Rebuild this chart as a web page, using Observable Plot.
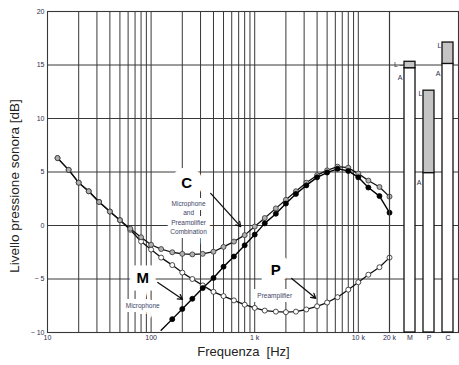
<!DOCTYPE html>
<html><head><meta charset="utf-8">
<script src="https://cdn.jsdelivr.net/npm/d3@7"></script>
<script src="https://cdn.jsdelivr.net/npm/@observablehq/plot@0.6"></script>
<style>
body{margin:0;background:#fff}
#wrap{position:relative;width:459px;height:365px}
#wrap svg{position:absolute;left:0;top:0}
</style>
</head><body><div id="wrap"></div>
<script>
// one-third-octave frequencies (Hz)
const freqs = [12.5,16,20,25,31.5,40,50,63,80,100,125,160,200,250,315,400,500,630,800,1000,1250,1600,2000,2500,3150,4000,5000,6300,8000,10000,12500,16000,20000];
// P: preamplifier
const preamp = [6.3,5.2,4.0,3.2,2.2,1.3,0.5,-0.4,-1.5,-2.25,-3.0,-3.7,-4.4,-5.0,-5.6,-6.2,-6.6,-7.0,-7.4,-7.7,-7.95,-8.05,-8.1,-8.05,-7.85,-7.55,-7.2,-6.7,-6.0,-5.3,-4.6,-3.9,-3.0];
// C: microphone + preamplifier combination
const combo = [6.3,5.2,4.0,3.2,2.2,1.3,0.5,-0.3,-1.1,-1.8,-2.2,-2.5,-2.65,-2.7,-2.65,-2.45,-2.0,-1.5,-0.9,-0.1,0.7,1.6,2.4,3.2,4.0,4.7,5.15,5.5,5.4,4.85,4.2,3.6,2.7];
// M: microphone
const micFreqs = [125,160,200,250,315,400,500,630,800,1000,1250,1600,2000,2500,3150,4000,5000,6300,8000,10000,12500,16000,20000];
const mic = [-9.8,-8.75,-7.8,-6.85,-5.85,-4.9,-3.85,-2.9,-1.85,-0.85,0.2,1.1,2.05,2.95,3.75,4.5,4.95,5.3,5.1,4.5,3.55,2.75,1.2];

// bars on the right: A-weighted and linear levels
const barCats = ["M","P","C"];
const barA = [14.7,4.9,15.1];
const barL = [15.3,12.6,17.1];
const barLText = ["L \u2013","L","L"];
const barAText = ["A","A","A"];

// ticks
const xTickValues = [10,100,1000,10000,20000];
const xTickLabels = ["10","100","1 k","10 k","20 k"];
const yTickValues = [-10,-5,0,5,10,15,20];
const yTickLabels = ["\u2212 10","\u2212 5","0","5","10","15","20"];
const gridFreqs = [20,30,40,50,60,70,80,90,100,200,300,400,500,600,700,800,900,1000,2000,3000,4000,5000,6000,7000,8000,9000,10000,20000];
const gridDb = [-5,0,5,10,15];

// annotations
const bigLabelText = ["C","M","P"];
const bigLabelF = [220,83,1596];
const bigLabelDb = [4.0,-4.95,-4.2];
const bigLabelHalo = [21,15,20];
const smallLabelText = ["Microphone\nand\nPreamplifier\nCombination","Microphone","Preamplifier"];
const smallLabelF = [230,83,1560];
const smallLabelDb = [0.8,-7.4,-6.45];
const arrowF1 = [376,116,2275], arrowDb1 = [3.0,-5.33,-4.95];
const arrowF2 = [733,201,3880], arrowDb2 = [-0.1,-6.9,-6.8];

const toRows = (fs, vs) => fs.map((f,i) => ({f, v: vs[i]}));
const pRows = toRows(freqs, preamp);
const cRows = toRows(freqs, combo);
const mRows = toRows(micFreqs, mic);
const mDots = mRows.filter(d => d.v > -9.5);
const bigLabels = bigLabelText.map((t,i)=>({t, f:bigLabelF[i], v:bigLabelDb[i], w:bigLabelHalo[i]}));
const smallLabels = smallLabelText.map((t,i)=>({t, f:smallLabelF[i], v:smallLabelDb[i]}));
const arrows = arrowF1.map((f,i)=>({f1:f, v1:arrowDb1[i], f2:arrowF2[i], v2:arrowDb2[i]}));
const bars = barCats.map((k,i)=>({k, a:barA[i], l:barL[i], lt:barLText[i], at:barAText[i]}));

const font = "'Liberation Sans', Arial, Helvetica, sans-serif";
const gridColor = "#383838";
const tickColor = "#2d2d4d";

const p1 = Plot.plot({
  width: 459, height: 365,
  marginLeft: 47, marginRight: 70, marginTop: 11, marginBottom: 33,
  style: {fontFamily: font, background: "white"},
  x: {type: "log", domain: [10, 20000]},
  y: {domain: [-10, 20]},
  marks: [
    Plot.ruleX(gridFreqs, {stroke: gridColor, strokeWidth: 1}),
    Plot.ruleY(gridDb, {stroke: gridColor, strokeWidth: 1}),
    Plot.frame({stroke: gridColor, strokeWidth: 1.1}),
    Plot.text(bigLabels, {x: "f", y: "v", text: "t", fontSize: 15, fontWeight: "bold", fill: "#000",
      stroke: "white", strokeWidth: "w", strokeLinejoin: "miter", paintOrder: "stroke"}),
    Plot.text(smallLabels, {x: "f", y: "v", text: "t", fontSize: 6.5, lineHeight: 1.45, fill: "#3d4466",
      stroke: "white", strokeWidth: 8, strokeLinejoin: "miter", paintOrder: "stroke"}),
    Plot.line(pRows, {x: "f", y: "v", stroke: "#111", strokeWidth: 1.3}),
    Plot.dot(pRows, {x: "f", y: "v", r: 2.5, fill: "white", stroke: "#222", strokeWidth: 0.8}),
    Plot.line(cRows, {x: "f", y: "v", stroke: "#111", strokeWidth: 1.3}),
    Plot.dot(cRows, {x: "f", y: "v", r: 2.5, fill: "#b0b0b0", stroke: "#333", strokeWidth: 0.8}),
    Plot.line(mRows, {x: "f", y: "v", stroke: "#000", strokeWidth: 1.4, clip: true}),
    Plot.dot(mDots, {x: "f", y: "v", r: 2.5, fill: "#000", stroke: "#000", strokeWidth: 0.8}),
    Plot.arrow(arrows, {x1: "f1", y1: "v1", x2: "f2", y2: "v2", stroke: "#111", strokeWidth: 1.3, headLength: 6}),
    Plot.axisX({ticks: xTickValues, tickFormat: d => xTickLabels[xTickValues.indexOf(d)], tickSize: 0, tickPadding: 3,
      fontSize: 7, fill: tickColor, label: null}),
    Plot.axisY({ticks: yTickValues, tickFormat: d => yTickLabels[yTickValues.indexOf(d)], tickSize: 0, tickPadding: 3,
      fontSize: 7, fill: tickColor, label: null}),
    Plot.text(["Livello pressione sonora [dB]"], {text: d => d, frameAnchor: "left", textAnchor: "middle",
      rotate: -90, dx: -33, dy: 14, fontSize: 13.5, fill: "#222"}),
    Plot.text(["Frequenza  [Hz]"], {text: d => d, frameAnchor: "bottom", dx: 25, dy: 23, fontSize: 13, fill: "#222"})
  ]
});

const p2 = Plot.plot({
  width: 459, height: 365,
  marginLeft: 389, marginRight: 1, marginTop: 11, marginBottom: 33,
  style: {fontFamily: font, background: "none"},
  x: {type: "band", domain: barCats, range: [400, 457], paddingInner: 0.42, paddingOuter: 0.21},
  y: {domain: [-10, 20], axis: null},
  marks: [
    Plot.ruleY(gridDb, {stroke: gridColor, strokeWidth: 1}),
    Plot.frame({stroke: gridColor, strokeWidth: 1.1}),
    Plot.barY(bars, {x: "k", y1: -10, y2: "a", fill: "white", stroke: "#111", strokeWidth: 1.3}),
    Plot.barY(bars, {x: "k", y1: "a", y2: "l", fill: "#c4c4c4", stroke: "#111", strokeWidth: 1.3}),
    Plot.text(bars, {x: "k", y: "l", text: "lt", textAnchor: "end", dx: -6.5, dy: 3, fontSize: 7, fill: tickColor}),
    Plot.text(bars, {x: "k", y: "a", text: "at", textAnchor: "end", dx: -7.5, dy: 10, fontSize: 7, fill: tickColor}),
    Plot.axisX({tickSize: 0, tickPadding: 3, fontSize: 7, fill: tickColor, label: null})
  ]
});

const wrap = document.getElementById("wrap");
wrap.appendChild(p1);
wrap.appendChild(p2);
</script>
</body></html>
